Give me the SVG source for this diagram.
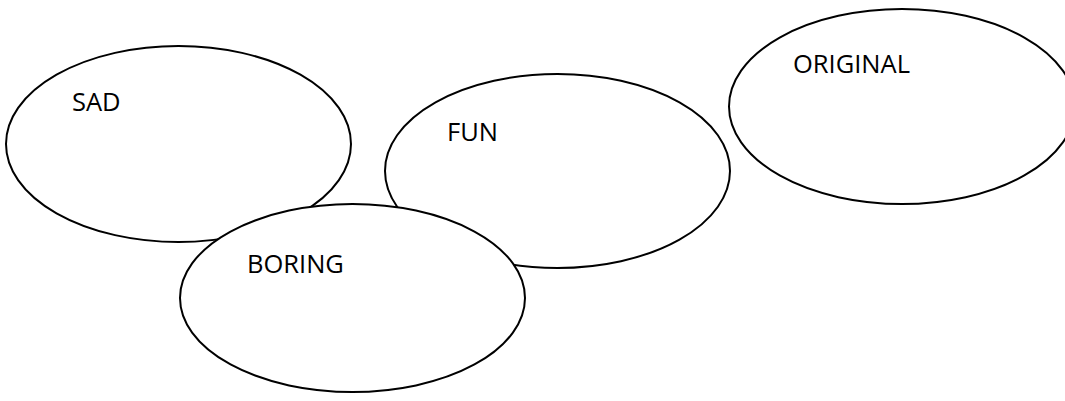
<svg xmlns="http://www.w3.org/2000/svg" width="1065" height="401" viewBox="0 0 1065 401">
<style>
.e{fill:#fff;stroke:#000;stroke-width:2}
.t{font-family:"Open Sans","Liberation Sans",sans-serif;font-size:25.5px;fill:#000}
</style>
<rect width="1065" height="401" fill="#fff"/>
<g id="sad"><ellipse class="e" cx="178.5" cy="144" rx="172.5" ry="98"/><text class="t" x="72" y="111">SAD</text></g>
<g id="fun"><ellipse class="e" cx="557.5" cy="171" rx="172.5" ry="97"/><text class="t" x="447" y="141">FUN</text></g>
<g id="original"><ellipse class="e" cx="902" cy="106.5" rx="173" ry="97.5"/><text class="t" x="793" y="73">ORIGINAL</text></g>
<g id="boring"><ellipse class="e" cx="352.5" cy="298" rx="172.5" ry="94"/><text class="t" x="247" y="273">BORING</text></g>
<g id="connectors"></g>
</svg>
